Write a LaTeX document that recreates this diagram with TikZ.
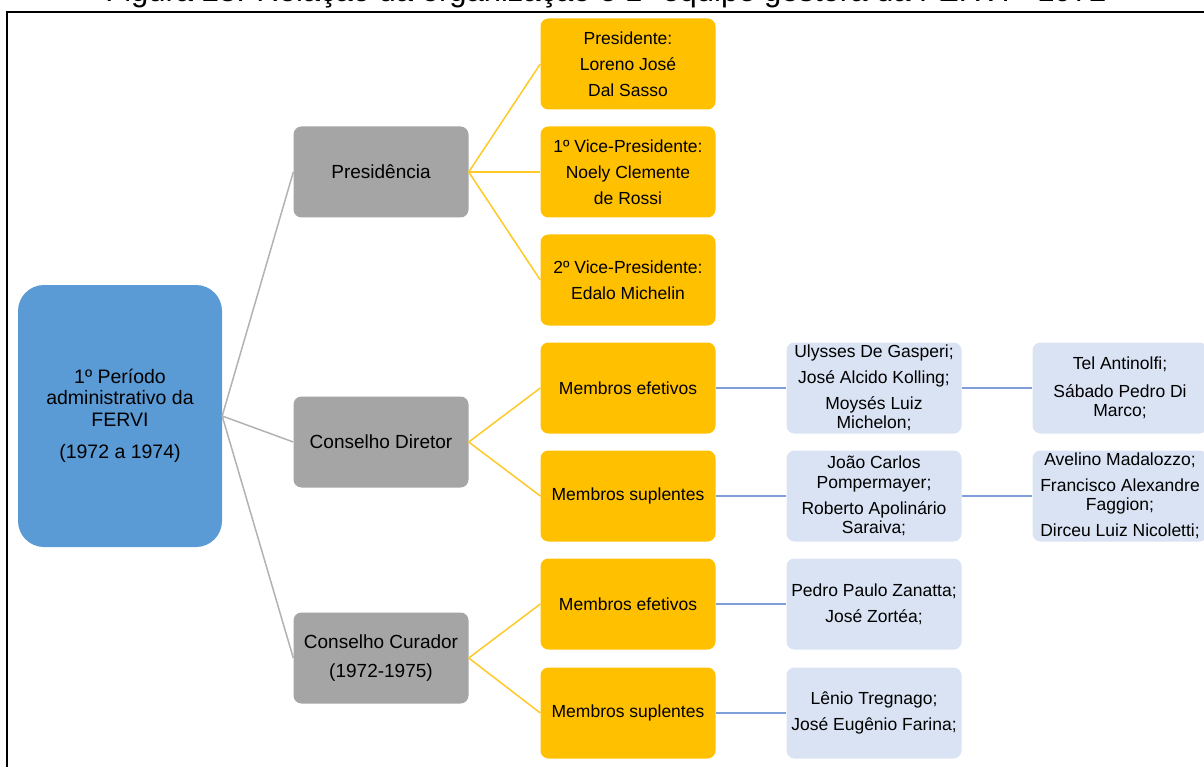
\documentclass[tikz,border=0pt]{standalone}
\usepackage{fontspec}
\setmainfont{Liberation Sans}
\definecolor{azulraiz}{HTML}{5B9BD5}
\definecolor{cinza}{HTML}{A5A5A5}
\definecolor{amarelo}{HTML}{FFC000}
\definecolor{azulclaro}{HTML}{DAE3F3}
\definecolor{linhaazul}{HTML}{7F9FD9}
\tikzset{
  caixa/.style={align=center, inner sep=2pt, minimum width=175pt, minimum height=91pt, rounded corners=8pt},
  raizbox/.style={caixa, fill=azulraiz, minimum width=204pt, minimum height=262pt, rounded corners=26pt,
    font=\fontsize{19.5}{21.5}\selectfont},
  grupo/.style={caixa, fill=cinza, font=\fontsize{19}{29}\selectfont},
  cargo/.style={caixa, fill=amarelo, font=\fontsize{17.5}{26}\selectfont},
  nomes/.style={caixa, fill=azulclaro, font=\fontsize{17.5}{19.5}\selectfont},
  galho/.style={line width=1.5pt, color=cinza!85},
  ramo/.style={line width=1.5pt, color=amarelo!85},
  fio/.style={line width=1.5pt, color=linhaazul}
}

\begin{document}
\begin{tikzpicture}[x=1pt,y=-1pt]

\useasboundingbox (0,0) rectangle (1204,767);

\node[anchor=base, font=\fontsize{31}{31}\selectfont] (titulo) at (606,1.5)
  {Figura 23: Relação da organização e 1ª equipe gestora da FERVI - 1972};
\draw[line width=2pt] (7,790) -- (7,12) -- (1220,12);

\node[raizbox] (raiz) at (120,416) {1º Período\\administrativo da\\FERVI\\[11pt](1972 a 1974)};

\node[grupo] (presid) at (381,172) {Presidência};
\node[grupo] (cdir) at (381,442) {Conselho Diretor};
\node[grupo] (ccur) at (381,658) {Conselho Curador\\(1972-1975)};

\node[cargo] (pres) at (628,64) {Presidente:\\Loreno José\\Dal Sasso};
\node[cargo] (vice1) at (628,172) {1º Vice-Presidente:\\Noely Clemente\\de Rossi};
\node[cargo] (vice2) at (628,280) {2º Vice-Presidente:\\Edalo Michelin};
\node[cargo] (dirEf) at (628,388) {Membros efetivos};
\node[cargo] (dirSup) at (628,496) {Membros suplentes};
\node[cargo] (curEf) at (628,604) {Membros efetivos};
\node[cargo] (curSup) at (628,713) {Membros suplentes};

\node[nomes] (nDirEf) at (874,388) {Ulysses De Gasperi;\\[6.5pt]José Alcido Kolling;\\[6.5pt]Moysés Luiz\\Michelon;};
\node[nomes] (nDirSup) at (874,496) {João Carlos\\Pompermayer;\\[6.5pt]Roberto Apolinário\\Saraiva;};
\node[nomes] (nCurEf) at (874,604) {Pedro Paulo Zanatta;\\[6.5pt]José Zortéa;};
\node[nomes] (nCurSup) at (874,713) {Lênio Tregnago;\\[6.5pt]José Eugênio Farina;};

\node[nomes] (xDirEf) at (1120,388) {Tel Antinolfi;\\[8pt]Sábado Pedro Di\\Marco;};
\node[nomes] (xDirSup) at (1120,496) {Avelino Madalozzo;\\[6.5pt]Francisco Alexandre\\Faggion;\\[6.5pt]Dirceu Luiz Nicoletti;};

\foreach \g in {presid, cdir, ccur}
  \draw[galho] (raiz.east) -- (\g.west);

\foreach \c in {pres, vice1, vice2}
  \draw[ramo] (presid.east) -- (\c.west);
\foreach \c in {dirEf, dirSup}
  \draw[ramo] (cdir.east) -- (\c.west);
\foreach \c in {curEf, curSup}
  \draw[ramo] (ccur.east) -- (\c.west);

\draw[fio] (dirEf.east) -- (nDirEf.west);
\draw[fio] (dirSup.east) -- (nDirSup.west);
\draw[fio] (curEf.east) -- (nCurEf.west);
\draw[fio] (curSup.east) -- (nCurSup.west);
\draw[fio] (nDirEf.east) -- (xDirEf.west);
\draw[fio] (nDirSup.east) -- (xDirSup.west);

\end{tikzpicture}
\end{document}
